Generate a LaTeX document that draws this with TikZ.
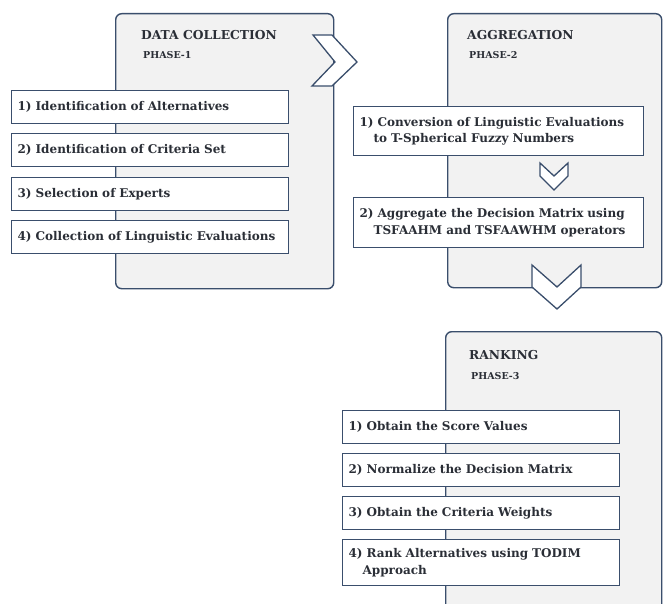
\documentclass[tikz,border=0pt]{standalone}
\usepackage{fontspec}
\setmainfont{DejaVu Serif}
\definecolor{edgeblue}{HTML}{3A4E6C}
\definecolor{panelgray}{HTML}{F2F2F2}
\definecolor{inkgray}{HTML}{2A2E36}
\begin{document}
\begin{tikzpicture}[x=1pt,y=-1pt,
    panel/.style={draw=edgeblue,fill=panelgray,line width=1.4pt,rounded corners=6pt,anchor=north west,inner sep=0pt},
    item/.style={draw=edgeblue,fill=white,line width=1.2pt,anchor=north west,align=left,inner xsep=6pt,inner ysep=0pt,
      text=inkgray,font=\fontsize{12}{16.5}\selectfont\bfseries},
    title/.style={anchor=west,inner sep=0pt,text=inkgray,font=\fontsize{12.3}{14}\selectfont\bfseries},
    phase/.style={anchor=west,inner sep=0pt,text=inkgray,font=\fontsize{9.5}{10}\selectfont\bfseries},
    chev/.style={draw=edgeblue,fill=white,line width=1.3pt,line join=miter}]
    \clip (0,0) rectangle (663,604);
    \fill[white] (0,0) rectangle (663,604);

    % phase panels
    \node[panel,minimum width=218pt,minimum height=275pt] (p1) at (115,13) {};
    \node[panel,minimum width=214pt,minimum height=274pt] (p2) at (447,13) {};
    \node[panel,minimum width=216pt,minimum height=300pt] (p3) at (445,331) {};

    \node[title] (t1) at (141,35) {DATA COLLECTION};
    \node[phase] (s1) at (143,55) {PHASE-1};
    \node[title] (t2) at (467,35) {AGGREGATION};
    \node[phase] (s2) at (469,55) {PHASE-2};
    \node[title] (t3) at (469,355) {RANKING};
    \node[phase] (s3) at (471,376) {PHASE-3};

    % phase 1 steps
    \foreach \y/\txt [count=\i] in {90/Identification of Alternatives,133/Identification of Criteria Set,
        177/Selection of Experts,220/Collection of Linguistic Evaluations}
      \node[item,text width=265pt,minimum height=33pt] (a\i) at (11,\y) {\i) \txt};

    % phase 2 steps
    \node[item,text width=278pt,minimum height=49pt] (b1) at (353,106)
      {1) Conversion of Linguistic Evaluations\\\hspace*{14pt}to T-Spherical Fuzzy Numbers};
    \node[item,text width=278pt,minimum height=50pt] (b2) at (353,197)
      {2) Aggregate the Decision Matrix using\\\hspace*{14pt}TSFAAHM and TSFAAWHM operators};

    % phase 3 steps
    \foreach \y/\txt [count=\i] in {410/Obtain the Score Values,453/Normalize the Decision Matrix,
        496/Obtain the Criteria Weights}
      \node[item,text width=265pt,minimum height=33pt] (c\i) at (342,\y) {\i) \txt};
    \node[item,text width=265pt,minimum height=46pt] (c4) at (342,539)
      {4) Rank Alternatives using TODIM\\\hspace*{14pt}Approach};

    % chevrons
    \draw[chev] (313,35) -- (332,35) -- (357,62) -- (332,86) -- (312,86) -- (335,62) -- cycle;
    \draw[chev] (540,163) -- (554,176) -- (568,163) -- (568,176) -- (554,190) -- (540,176) -- cycle;
    \draw[chev] (532,265) -- (557,287) -- (581,265) -- (581,287) -- (557,309) -- (532,287) -- cycle;
\end{tikzpicture}
\end{document}
